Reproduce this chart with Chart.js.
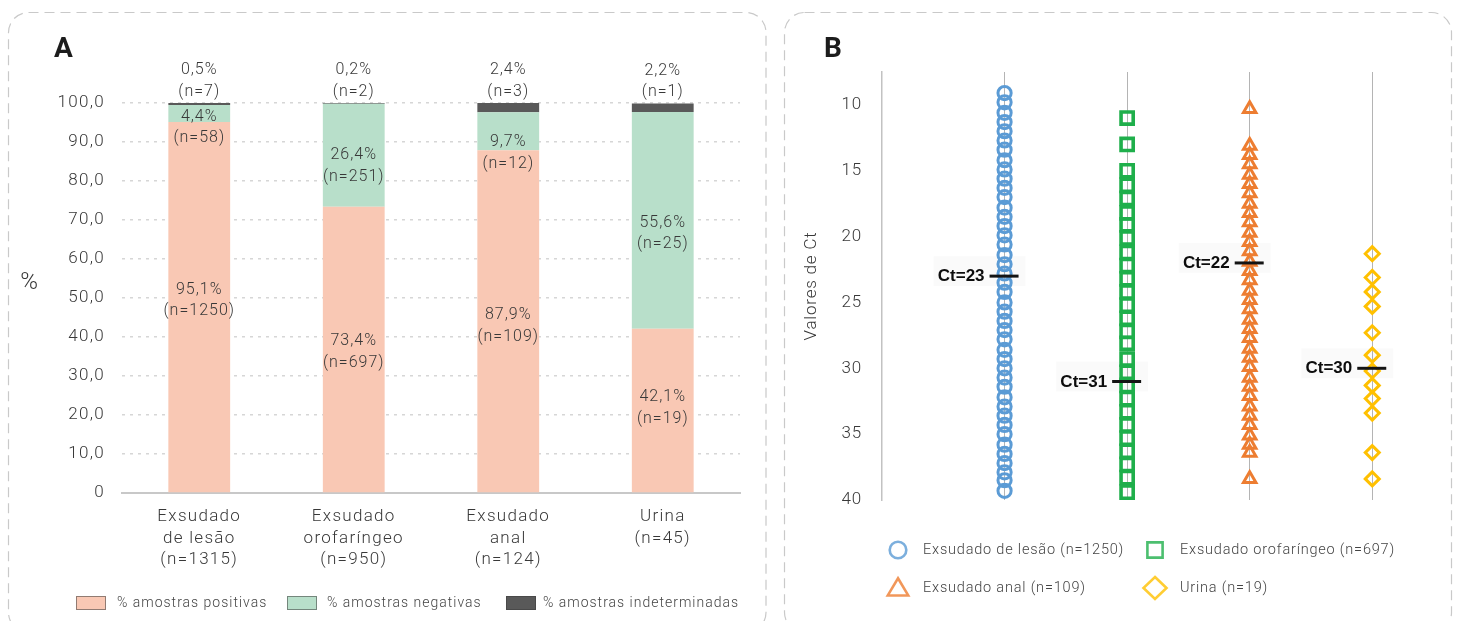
<!DOCTYPE html>
<html>
<head>
<meta charset="utf-8">
<script src="https://cdn.jsdelivr.net/npm/chart.js@4.4.1/dist/chart.umd.min.js"></script>
<style>
  html, body { margin: 0; padding: 0; background: #ffffff; }
  body { width: 1458px; height: 621px; position: relative; overflow: hidden; }
  #frames { position: absolute; left: 0; top: 0; }
  .panel { position: absolute; top: 0; height: 621px; }
  #wrapA { left: 0; width: 770px; }
  #wrapB { left: 770px; width: 688px; }
</style>
</head>
<body>
<svg id="frames" width="1458" height="621">
  <rect x="8.5" y="12.5" width="757.5" height="620" rx="20" ry="20" fill="none" stroke="#c9c9c9" stroke-width="1.2" stroke-dasharray="10 6"/>
  <rect x="784.5" y="12.5" width="667" height="620" rx="20" ry="20" fill="none" stroke="#c9c9c9" stroke-width="1.2" stroke-dasharray="10 6"/>
</svg>
<div class="panel" id="wrapA"><canvas id="chartA"></canvas></div>
<div class="panel" id="wrapB"><canvas id="chartB"></canvas></div>

<script>
// ---------- Panel A: result distribution by sample type ----------
const sampleTypes = [
  ['Exsudado', 'de lesão', '(n=1315)'],
  ['Exsudado', 'orofaríngeo', '(n=950)'],
  ['Exsudado', 'anal', '(n=124)'],
  ['Urina', '(n=45)']
];
const positivePct = [95.1, 73.4, 87.9, 42.1];
const positiveN   = [1250, 697, 109, 19];
const negativePct = [4.4, 26.4, 9.7, 55.6];
const negativeN   = [58, 251, 12, 25];
const indetPct    = [0.5, 0.2, 2.4, 2.2];
const indetN      = [7, 2, 3, 1];
const seriesNamesA = ['% amostras positivas', '% amostras negativas', '% amostras indeterminadas'];
const pctTickValues = [0, 10, 20, 30, 40, 50, 60, 70, 80, 90, 100];
const pctTickLabels = ['0', '10,0', '20,0', '30,0', '40,0', '50,0', '60,0', '70,0', '80,0', '90,0', '100,0'];

// ---------- Panel B: Ct values by sample type ----------
const ctGroups = ['Exsudado de lesão (n=1250)', 'Exsudado orofaríngeo (n=697)', 'Exsudado anal (n=109)', 'Urina (n=19)'];
const ctTickValues = [10, 15, 20, 25, 30, 35, 40];
const ctLesao = [9.1, 9.8, 10.6, 11.3, 12.0, 12.7, 13.4, 14.2, 14.9, 15.6, 16.3, 17.0, 17.8, 18.5, 19.2,
  19.9, 20.6, 21.4, 22.1, 22.8, 23.5, 24.2, 25.0, 25.7, 26.4, 27.1, 27.8, 28.6, 29.3, 30.0, 30.7,
  31.4, 32.2, 32.9, 33.6, 34.3, 35.0, 35.8, 36.5, 37.2, 37.9, 38.5, 39.3];
const ctOrofaringeo = [11.0, 13.0, 15.0, 16.1, 17.1, 18.2, 19.1, 20.1, 21.2, 22.2, 23.2, 24.2, 25.2,
  26.2, 27.2, 28.1, 29.3, 30.3, 31.3, 32.3, 33.3, 34.3, 35.3, 36.3, 37.3, 38.3, 39.4];
const ctAnal = [10.3, 13.1, 13.8, 14.5, 15.3, 16.0, 16.7, 17.5, 18.2, 18.9, 19.7, 20.4, 21.1, 21.9,
  22.6, 23.3, 24.1, 24.8, 25.5, 26.3, 27.0, 27.7, 28.5, 29.2, 29.9, 30.7, 31.4, 32.1, 32.9, 33.6,
  34.3, 35.1, 35.8, 36.4, 38.4];
const ctUrina = [21.3, 23.1, 24.2, 25.3, 27.3, 29.0, 30.2, 31.3, 32.3, 33.4, 36.4, 38.4];
const ctMedians = [23, 31, 22, 30];

const fmtPct = v => v.toFixed(1).replace('.', ',') + '%';
const TEXT = '#383838';
const FONT = 'Roboto, "Liberation Sans", sans-serif';

// ---------- plugins, panel A ----------
const spacingA = {
  id: 'spacingA',
  beforeDraw(chart) { chart.ctx.letterSpacing = '1.3px'; }
};

const barValueLabels = {
  id: 'barValueLabels',
  afterDatasetsDraw(chart, args, opts) {
    const ctx = chart.ctx;
    ctx.save();
    ctx.font = opts.font;
    ctx.fillStyle = opts.color;
    ctx.letterSpacing = opts.spacing;
    ctx.textAlign = 'center';
    ctx.textBaseline = 'middle';
    const half = opts.lineGap / 2;
    chart.data.datasets.forEach((ds, di) => {
      const place = opts.placement[di];
      chart.getDatasetMeta(di).data.forEach((bar, i) => {
        const c = place.mode === 'above'
          ? bar.y - place.gap - half
          : (bar.y + bar.base) / 2 + place.shift[i];
        ctx.fillText(fmtPct(ds.data[i]), bar.x, c - half);
        ctx.fillText('(n=' + ds.counts[i] + ')', bar.x, c + half);
      });
    });
    ctx.restore();
  }
};

const legendA = {
  id: 'legendA',
  afterDraw(chart, args, opts) {
    const ctx = chart.ctx;
    ctx.save();
    ctx.font = opts.font;
    ctx.letterSpacing = opts.spacing;
    ctx.textAlign = 'left';
    ctx.textBaseline = 'middle';
    chart.data.datasets.forEach((ds, i) => {
      const bx = opts.boxX[i];
      ctx.fillStyle = ds.backgroundColor;
      ctx.fillRect(bx, opts.y - 7, 30, 14);
      ctx.strokeStyle = 'rgba(60,60,60,0.55)';
      ctx.lineWidth = 1;
      ctx.strokeRect(bx + 0.5, opts.y - 6.5, 29, 13);
      ctx.fillStyle = opts.color;
      ctx.fillText(ds.label, opts.textX[i], opts.y);
    });
    ctx.restore();
  }
};

const decorA = {
  id: 'decorA',
  afterDraw(chart) {
    const ctx = chart.ctx;
    ctx.save();
    ctx.letterSpacing = '0px';
    ctx.fillStyle = '#1c1c1c';
    ctx.font = 'bold 28px ' + FONT;
    ctx.textAlign = 'left';
    ctx.textBaseline = 'alphabetic';
    ctx.fillText('A', 54, 57);
    ctx.fillStyle = TEXT;
    ctx.font = '300 24px ' + FONT;
    ctx.textAlign = 'center';
    ctx.textBaseline = 'middle';
    ctx.fillText('%', 29, 283);
    ctx.restore();
  }
};

new Chart(document.getElementById('chartA'), {
  type: 'bar',
  data: {
    labels: sampleTypes,
    datasets: [
      { label: seriesNamesA[0], data: positivePct, counts: positiveN, backgroundColor: '#F9C8B4' },
      { label: seriesNamesA[1], data: negativePct, counts: negativeN, backgroundColor: '#B8DFCA' },
      { label: seriesNamesA[2], data: indetPct, counts: indetN, backgroundColor: '#595959' }
    ]
  },
  options: {
    responsive: true,
    maintainAspectRatio: false,
    animation: false,
    events: [],
    barPercentage: 0.4,
    categoryPercentage: 1.0,
    layout: { padding: { left: 0, right: 30, top: 103, bottom: 0 } },
    plugins: {
      legend: { display: false },
      tooltip: { enabled: false },
      barValueLabels: {
        font: '300 16px ' + FONT, color: TEXT, spacing: '1px', lineGap: 21.6,
        placement: [
          { mode: 'middle', shift: [-6.5, 2.5, 4.7, -2.8] },
          { mode: 'middle', shift: [14, 10.6, 22, 13.3] },
          { mode: 'above', gap: 11 }
        ]
      },
      legendA: {
        font: '300 14px ' + FONT, color: '#444444', spacing: '1px', y: 603,
        boxX: [76, 287, 506], textX: [117, 327, 543]
      }
    },
    scales: {
      x: {
        stacked: true,
        grid: { display: false, drawTicks: false },
        border: { display: true, color: '#c8c8c8', width: 2 },
        ticks: {
          color: TEXT, autoSkip: false, maxRotation: 0, padding: 13,
          font: { family: FONT, size: 17, weight: 300, lineHeight: 1.275 }
        },
        afterFit(scale) { scale.height = 128; }
      },
      y: {
        stacked: true,
        min: 0,
        max: 100,
        afterBuildTicks(scale) { scale.ticks = pctTickValues.map(v => ({ value: v })); },
        grid: { color: '#d6d6d6', lineWidth: 1.5, drawTicks: false },
        border: { display: false, dash: [3, 5] },
        ticks: {
          color: TEXT, padding: 17,
          font: { family: FONT, size: 17, weight: 300 },
          callback: v => pctTickLabels[pctTickValues.indexOf(v)]
        },
        afterFit(scale) { scale.width = 122; }
      }
    }
  },
  plugins: [spacingA, barValueLabels, legendA, decorA]
});

// ---------- plugins, panel B ----------
function markerPath(ctx, style, x, y, s) {
  ctx.beginPath();
  if (style === 'circle') {
    ctx.arc(x, y, s, 0, Math.PI * 2);
  } else if (style === 'rect') {
    ctx.rect(x - s, y - s, 2 * s, 2 * s);
  } else if (style === 'triangle') {
    ctx.moveTo(x, y - s * 1.05);
    ctx.lineTo(x + s * 1.1, y + s * 0.8);
    ctx.lineTo(x - s * 1.1, y + s * 0.8);
    ctx.closePath();
  } else {
    ctx.moveTo(x, y - s * 1.15);
    ctx.lineTo(x + s * 1.2, y);
    ctx.lineTo(x, y + s * 1.15);
    ctx.lineTo(x - s * 1.2, y);
    ctx.closePath();
  }
}

const spacingB = {
  id: 'spacingB',
  beforeDraw(chart) { chart.ctx.letterSpacing = '0.8px'; }
};

const medianMarks = {
  id: 'medianMarks',
  beforeDatasetsDraw(chart) {
    const { ctx, scales: { x, y } } = chart;
    ctx.save();
    ctx.fillStyle = 'rgba(0,0,0,0.018)';
    ctMedians.forEach((m, i) => {
      const cx = x.getPixelForValue(i + 1), cy = y.getPixelForValue(m);
      ctx.fillRect(cx - 71, cy - 20, 92, 30);
    });
    ctx.restore();
  },
  afterDraw(chart) {
    const { ctx, scales: { x, y } } = chart;
    ctx.save();
    ctx.letterSpacing = '0px';
    ctx.strokeStyle = '#141414';
    ctx.lineWidth = 3;
    ctx.fillStyle = '#0d0d0d';
    ctx.font = 'bold 17px "Liberation Sans Narrow", "Liberation Sans", sans-serif';
    ctx.textAlign = 'right';
    ctx.textBaseline = 'middle';
    ctMedians.forEach((m, i) => {
      const cx = x.getPixelForValue(i + 1), cy = y.getPixelForValue(m);
      ctx.beginPath();
      ctx.moveTo(cx - 15, cy);
      ctx.lineTo(cx + 14, cy);
      ctx.stroke();
      ctx.fillText('Ct=' + m, cx - 20, cy + 0.5);
    });
    ctx.restore();
  }
};

const legendB = {
  id: 'legendB',
  afterDraw(chart, args, opts) {
    const ctx = chart.ctx;
    ctx.save();
    ctx.font = opts.font;
    ctx.letterSpacing = opts.spacing;
    ctx.textAlign = 'left';
    ctx.textBaseline = 'middle';
    chart.data.datasets.forEach((ds, i) => {
      const col = i % 2, row = Math.floor(i / 2);
      const ix = opts.iconX[col], iy = opts.rowY[row];
      ctx.globalAlpha = 0.8;
      ctx.strokeStyle = ds.borderColor;
      ctx.lineWidth = 2.6;
      ctx.lineJoin = 'miter';
      markerPath(ctx, ds.pointStyle, ix, iy, opts.iconSize[i]);
      ctx.stroke();
      ctx.globalAlpha = 1;
      ctx.fillStyle = opts.color;
      ctx.fillText(ds.label, ix + opts.textGap, iy);
    });
    ctx.restore();
  }
};

const decorB = {
  id: 'decorB',
  afterDraw(chart) {
    const ctx = chart.ctx;
    ctx.save();
    ctx.letterSpacing = '0px';
    ctx.fillStyle = '#1c1c1c';
    ctx.font = 'bold 28px ' + FONT;
    ctx.textAlign = 'left';
    ctx.textBaseline = 'alphabetic';
    ctx.fillText('B', 54, 57);
    ctx.restore();
  }
};

const toPoints = (vals, col) => vals.map(v => ({ x: col, y: v }));
const markerSet = (label, vals, col, color, style, radius, width) => ({
  label, data: toPoints(vals, col), borderColor: color, backgroundColor: 'rgba(0,0,0,0)',
  pointStyle: style, pointRadius: radius, pointBorderWidth: width, showLine: false, clip: false
});

new Chart(document.getElementById('chartB'), {
  type: 'scatter',
  data: {
    datasets: [
      markerSet(ctGroups[0], ctLesao, 1, '#5B9BD5', 'circle', 6.6, 3),
      markerSet(ctGroups[1], ctOrofaringeo, 2, '#1FAF4B', 'rect', 8.6, 3.6),
      markerSet(ctGroups[2], ctAnal, 3, '#ED7D31', 'triangle', 7.2, 3),
      markerSet(ctGroups[3], ctUrina, 4, '#FFC000', 'rectRot', 7, 3)
    ]
  },
  options: {
    responsive: true,
    maintainAspectRatio: false,
    animation: false,
    events: [],
    layout: { padding: { left: 0, right: 11, top: 72, bottom: 0 } },
    plugins: {
      legend: { display: false },
      tooltip: { enabled: false },
      legendB: {
        font: '300 14.5px ' + FONT, color: '#444444', spacing: '0.8px',
        iconX: [128, 385], rowY: [550, 588], textGap: 25, iconSize: [8.3, 7.6, 9.3, 9.6]
      }
    },
    scales: {
      x: {
        type: 'linear',
        min: 0,
        max: 4.6,
        z: 1,
        afterBuildTicks(scale) { scale.ticks = [1, 2, 3, 4].map(v => ({ value: v })); },
        grid: { color: '#b4b4b4', lineWidth: 1, drawTicks: false },
        border: { display: false },
        ticks: { display: false },
        afterFit(scale) { scale.height = 121; }
      },
      y: {
        type: 'linear',
        reverse: true,
        min: 7.5,
        max: 40,
        afterBuildTicks(scale) { scale.ticks = ctTickValues.map(v => ({ value: v })); },
        grid: { display: false, drawTicks: false },
        border: { display: true, color: '#c2c2c2', width: 1.5 },
        ticks: { color: TEXT, padding: 20, font: { family: FONT, size: 17, weight: 300 } },
        title: {
          display: true, text: 'Valores de Ct', color: TEXT,
          font: { family: FONT, size: 17, weight: 300 }, padding: { top: 32, bottom: 0 }
        },
        afterFit(scale) { scale.width = 112; }
      }
    }
  },
  plugins: [spacingB, medianMarks, legendB, decorB]
});
</script>
</body>
</html>
